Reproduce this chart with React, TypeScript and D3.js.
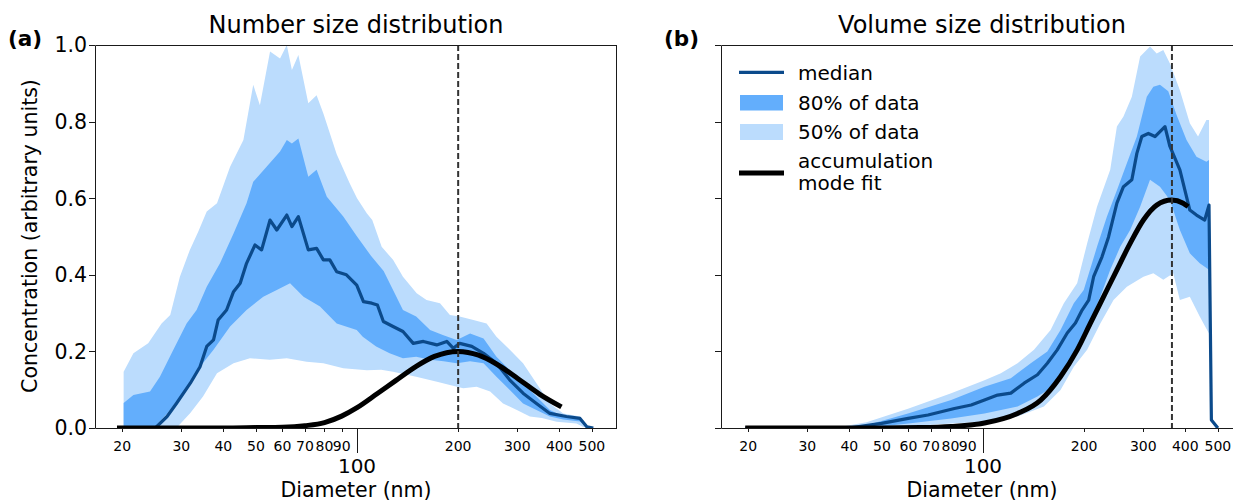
import React from 'react';
import * as d3 from 'd3';

type P = [number, number];

// ---------- axis data ----------
const minorTicks = [20, 30, 40, 50, 60, 70, 80, 90, 200, 300, 400, 500];
const majorTicks = [100];
const yTicks = [0, 0.2, 0.4, 0.6, 0.8, 1.0];
const xDomain: [number, number] = [16.6, 594];
const yDomain: [number, number] = [0, 1];

// ---------- (a) number size distribution ----------
const numLightHi: P[] = [[20.2,.147],[21.6,.195],[23.9,.221],[26.2,.273],[27.8,.295],[29.7,.395],[31.8,.465],[33.7,.513],[35.7,.565],[38.3,.587],[41.9,.682],[45.9,.752],[49.1,.896],[51.4,.843],[55.1,.983],[59,.965],[61.8,1.0],[64,.935],[66.9,.974],[71.6,.848],[75.8,.869],[79.4,.821],[87,.715],[95,.64],[100,.6],[106.9,.561],[111,.543],[118.4,.473],[128,.439],[137,.395],[150.5,.352],[161,.334],[176.6,.326],[189,.295],[202,.291],[222,.282],[243,.273],[260,.238],[285,.204],[312,.169],[342,.117],[375,.064],[411,.038],[461,.030],[483,.003],[505,0]];
const numLightLo: P[] = [[20.2,0],[29,0],[31.9,.039],[34.8,.082],[38.3,.143],[42.9,.169],[48,.182],[55,.178],[61.8,.182],[70.8,.173],[79.4,.169],[91,.156],[107,.151],[118,.152],[128,.147],[150,.134],[173,.121],[189,.112],[207,.104],[227,.108],[249,.095],[272,.064],[299,.047],[327,.030],[355,.026],[393,.016],[450,.012],[470,.003],[490,0]];
const numDarkHi: P[] = [[20.2,.065],[21.6,.086],[24.2,.095],[25.9,.134],[28.4,.204],[31.1,.273],[33.3,.308],[35.7,.369],[39.1,.43],[42.9,.508],[46.9,.587],[49.1,.643],[53.8,.682],[59,.722],[61.8,.752],[64,.743],[66.9,.756],[71.6,.656],[75.8,.674],[81.3,.604],[91,.552],[100,.5],[110,.45],[120,.41],[128,.36],[137,.308],[150,.291],[165,.256],[180,.243],[198,.23],[217,.247],[238,.234],[260,.186],[285,.151],[312,.117],[342,.082],[375,.047],[411,.030],[461,.026],[483,.004],[495,0]];
const numDarkLo: P[] = [[20.2,0],[24.8,0],[27.2,.038],[30.3,.091],[34.1,.16],[37.4,.204],[41.9,.265],[46.9,.308],[52.6,.343],[57.7,.36],[63.2,.378],[69.3,.343],[77.6,.317],[87,.273],[99.8,.256],[104,.238],[114,.213],[125,.195],[137,.182],[150,.186],[165,.178],[181,.174],[198,.169],[217,.174],[238,.169],[260,.134],[285,.099],[312,.064],[342,.047],[375,.030],[411,.022],[461,.017],[483,.004],[495,0]];
const numMedian: P[] = [[20.2,0],[25.1,0],[27.2,.030],[29,.064],[31.9,.117],[34.1,.16],[35.7,.213],[37.4,.23],[38.6,.282],[40.9,.308],[42.9,.356],[44.9,.378],[46.9,.43],[49.7,.478],[52,.465],[55.1,.543],[57.7,.517],[61.8,.556],[64,.526],[66.9,.552],[71.6,.465],[75.8,.469],[79.4,.439],[83,.439],[87,.408],[93,.4],[99.8,.373],[104.5,.33],[110.6,.326],[115,.321],[119.8,.278],[128,.265],[137,.252],[147,.221],[157.6,.226],[172.7,.217],[185,.226],[193.6,.208],[202,.221],[219.6,.213],[238,.195],[260,.169],[285,.125],[312,.091],[342,.064],[375,.038],[420,.030],[461,.025],[483,.003],[505,0]];
const numFit: P[] = [[19.3,0],[40,0],[50,.001],[60,.002],[70,.006],[80,.014],[90,.031],[100,.053],[115,.09],[130,.123],[150,.161],[170,.187],[200,.2],[230,.19],[260,.167],[300,.13],[350,.088],[406,.055]];

// ---------- (b) volume size distribution ----------
const volLightHi: P[] = [[19.6,0],[36,0],[45,.015],[59.8,.05],[80.4,.091],[101,.125],[113,.143],[126.7,.169],[141.8,.204],[158.9,.256],[174,.326],[190.6,.378],[204.1,.482],[218.4,.578],[239.1,.674],[250.3,.787],[261.8,.813],[277.3,.865],[293.5,.97],[314.1,.996],[328.8,.978],[344,.987],[360,.952],[385.4,.882],[412.6,.796],[436.5,.761],[462.2,.804],[470.5,.804]];
const volLightLo: P[] = [[19.6,0],[50,0],[80.4,.012],[101,.016],[126.7,.03],[151.8,.056],[170.1,.099],[186.3,.16],[204.1,.204],[223.4,.273],[244.6,.334],[268,.369],[300.2,.395],[321.3,.404],[344,.387],[368.3,.404],[385.4,.334],[412.6,.343],[441.6,.291],[470.5,.247]];
const volDarkHi: P[] = [[19.6,0],[42,0],[59.8,.038],[80.4,.073],[101,.108],[121,.13],[138.7,.169],[155.4,.2],[170.1,.256],[186.3,.326],[199.4,.36],[218.4,.473],[233.8,.552],[250.3,.621],[268,.691],[287,.761],[307.2,.865],[321.3,.891],[336.3,.896],[355.9,.879],[376.8,.817],[403.4,.752],[431.8,.708],[462.2,.695],[470.5,.70]];
const volDarkLo: P[] = [[19.6,0],[45,0],[60,.012],[80.4,.025],[101,.038],[126.7,.056],[145.2,.082],[158.9,.104],[174,.143],[190.6,.213],[208.7,.282],[223.4,.343],[239.1,.413],[256.1,.473],[274.1,.517],[293.5,.578],[314.1,.648],[336.3,.630],[360,.595],[385.4,.517],[412.6,.456],[441.6,.43],[470.5,.413]];
const volMedian: P[] = [[19.6,0],[39.8,0],[49.9,.012],[59.9,.025],[68.6,.034],[82.2,.051],[92.2,.06],[101,.073],[110.5,.086],[121,.091],[132.5,.117],[145.2,.139],[155.4,.169],[166.3,.204],[178.1,.248],[188.4,.274],[197.2,.308],[206.3,.334],[213.4,.395],[226,.447],[236.4,.499],[250.3,.587],[261.8,.630],[277.3,.648],[287,.717],[296.9,.761],[310.5,.769],[325,.761],[348,.787],[360,.735],[385.4,.674],[412.6,.569],[431.8,.556],[456.9,.543],[470.5,.582],[478.3,.021],[500,0]];
const volFit: P[] = [[19.6,0],[50,0],[65,.001],[80.4,.004],[101,.013],[126.7,.038],[148.5,.073],[170,.134],[190.7,.204],[208.6,.273],[228.5,.343],[250.3,.413],[274.1,.482],[300.2,.543],[328.8,.582],[364.2,.595],[394.2,.587],[407.8,.578]];

const modeDiameters = [200, 365];
const legendLabels = ['median', '80% of data', '50% of data', 'accumulation', 'mode fit'];

// ---------- styles ----------
const FONT = "'DejaVu Sans', sans-serif";
const C_LIGHT = '#bbdcfd';
const C_DARK = '#63aefc';
const C_MED = '#0b4a8b';
const C_FIT = '#000000';
const C_AXIS = '#1a1a1a';

const plotTop = 45;
const plotBottom = 428;
const panelW = 522;

type PanelProps = {
  id: string;
  x0: number;
  title: string;
  tag: string;
  tagX: number;
  lightHi: P[]; lightLo: P[]; darkHi: P[]; darkLo: P[];
  median: P[]; fit: P[]; mode: number;
  yLabels: boolean;
  legend?: boolean;
};

function Panel(p: PanelProps) {
  const x = d3.scaleLog().domain(xDomain).range([p.x0, p.x0 + panelW]);
  const y = d3.scaleLinear().domain(yDomain).range([plotBottom, plotTop]);
  const line = d3.line<P>().x(d => x(d[0])).y(d => y(d[1]));
  const smooth = d3.line<P>().x(d => x(d[0])).y(d => y(d[1])).curve(d3.curveMonotoneX);
  const band = (hi: P[], lo: P[]) => (line(hi.concat([...lo].reverse())) || '') + 'Z';
  const x1 = p.x0 + panelW;
  const cx = (p.x0 + x1) / 2;
  return (
    <g>
      <defs>
        <clipPath id={p.id}>
          <rect x={p.x0} y={plotTop} width={panelW} height={plotBottom - plotTop} />
        </clipPath>
      </defs>
      <g clipPath={`url(#${p.id})`}>
        <path d={band(p.lightHi, p.lightLo)} fill={C_LIGHT} />
        <path d={band(p.darkHi, p.darkLo)} fill={C_DARK} />
        <path d={line(p.median) || ''} fill="none" stroke={C_MED} strokeWidth={3.2} strokeLinejoin="round" />
        <path d={smooth(p.fit) || ''} fill="none" stroke={C_FIT} strokeWidth={5} />
        <line x1={x(p.mode)} x2={x(p.mode)} y1={plotTop} y2={plotBottom} stroke="#333" strokeWidth={2} strokeDasharray="6,3" />
      </g>
      {/* spines */}
      <path d={`M${x1},${plotTop + 0.5}H${p.x0 + 0.5}V${plotBottom + 0.5}H${x1}`} fill="none" stroke={C_AXIS} strokeWidth={1} />
      <line x1={x1 - 0.5} x2={x1 - 0.5} y1={plotTop} y2={plotBottom} stroke={C_AXIS} strokeWidth={1} />
      {/* y ticks */}
      {yTicks.map(t => (
        <g key={t}>
          <line x1={p.x0 - 6} x2={p.x0} y1={Math.round(y(t)) + 0.5} y2={Math.round(y(t)) + 0.5} stroke={C_AXIS} />
          {p.yLabels && (
            <text x={p.x0 - 8} y={y(t)} dy="0.36em" textAnchor="end" fontSize={20.5} fontFamily={FONT} fill="#000">{t.toFixed(1)}</text>
          )}
        </g>
      ))}
      {/* x minor ticks */}
      {minorTicks.map(t => (
        <g key={t}>
          <line x1={Math.round(x(t)) + 0.5} x2={Math.round(x(t)) + 0.5} y1={plotBottom} y2={plotBottom + 4} stroke={C_AXIS} />
          <text x={x(t)} y={plotBottom + 23} textAnchor="middle" fontSize={14} fontFamily={FONT} fill="#000">{t}</text>
        </g>
      ))}
      {majorTicks.map(t => (
        <g key={t}>
          <line x1={Math.round(x(t)) + 0.5} x2={Math.round(x(t)) + 0.5} y1={plotBottom} y2={plotBottom + 25} stroke={C_AXIS} />
          <text x={x(t)} y={plotBottom + 45} textAnchor="middle" fontSize={20} fontFamily={FONT} fill="#000">{t}</text>
        </g>
      ))}
      <text x={cx} y={497} textAnchor="middle" fontSize={20.5} fontFamily={FONT} fill="#000">Diameter (nm)</text>
      <text x={cx} y={33} textAnchor="middle" fontSize={24} fontFamily={FONT} fill="#000">{p.title}</text>
      <text x={p.tagX} y={46} fontSize={21.5} fontWeight="bold" fontFamily={FONT} fill="#000">{p.tag}</text>
      {p.legend && (
        <g fontFamily={FONT} fontSize={20} fill="#000">
          <line x1={739} x2={784} y1={72.3} y2={72.3} stroke={C_MED} strokeWidth={3.3} />
          <text x={798} y={73} dy="0.36em">{legendLabels[0]}</text>
          <rect x={740} y={95} width={43} height={15.5} fill={C_DARK} />
          <text x={798} y={103} dy="0.36em">{legendLabels[1]}</text>
          <rect x={740} y={124} width={43} height={16} fill={C_LIGHT} />
          <text x={798} y={132} dy="0.36em">{legendLabels[2]}</text>
          <line x1={739} x2={784} y1={173} y2={173} stroke={C_FIT} strokeWidth={5} />
          <text x={798} y={161} dy="0.36em">{legendLabels[3]}</text>
          <text x={798} y={183} dy="0.36em">{legendLabels[4]}</text>
        </g>
      )}
    </g>
  );
}

export default function App() {
  return (
    <svg width={1233} height={502} style={{ position: 'absolute', left: 0, top: 0, background: '#fff' }}>
      <rect width={1233} height={502} fill="#fff" />
      <Panel id="clipA" x0={95} title="Number size distribution" tag="(a)" tagX={8}
        lightHi={numLightHi} lightLo={numLightLo} darkHi={numDarkHi} darkLo={numDarkLo}
        median={numMedian} fit={numFit} mode={modeDiameters[0]} yLabels={true} />
      <Panel id="clipB" x0={721} title="Volume size distribution" tag="(b)" tagX={664}
        lightHi={volLightHi} lightLo={volLightLo} darkHi={volDarkHi} darkLo={volDarkLo}
        median={volMedian} fit={volFit} mode={modeDiameters[1]} yLabels={false} legend={true} />
      <text transform="translate(37,236) rotate(-90)" textAnchor="middle" fontSize={20.5} fontFamily={FONT} fill="#000">Concentration (arbitrary units)</text>
    </svg>
  );
}
